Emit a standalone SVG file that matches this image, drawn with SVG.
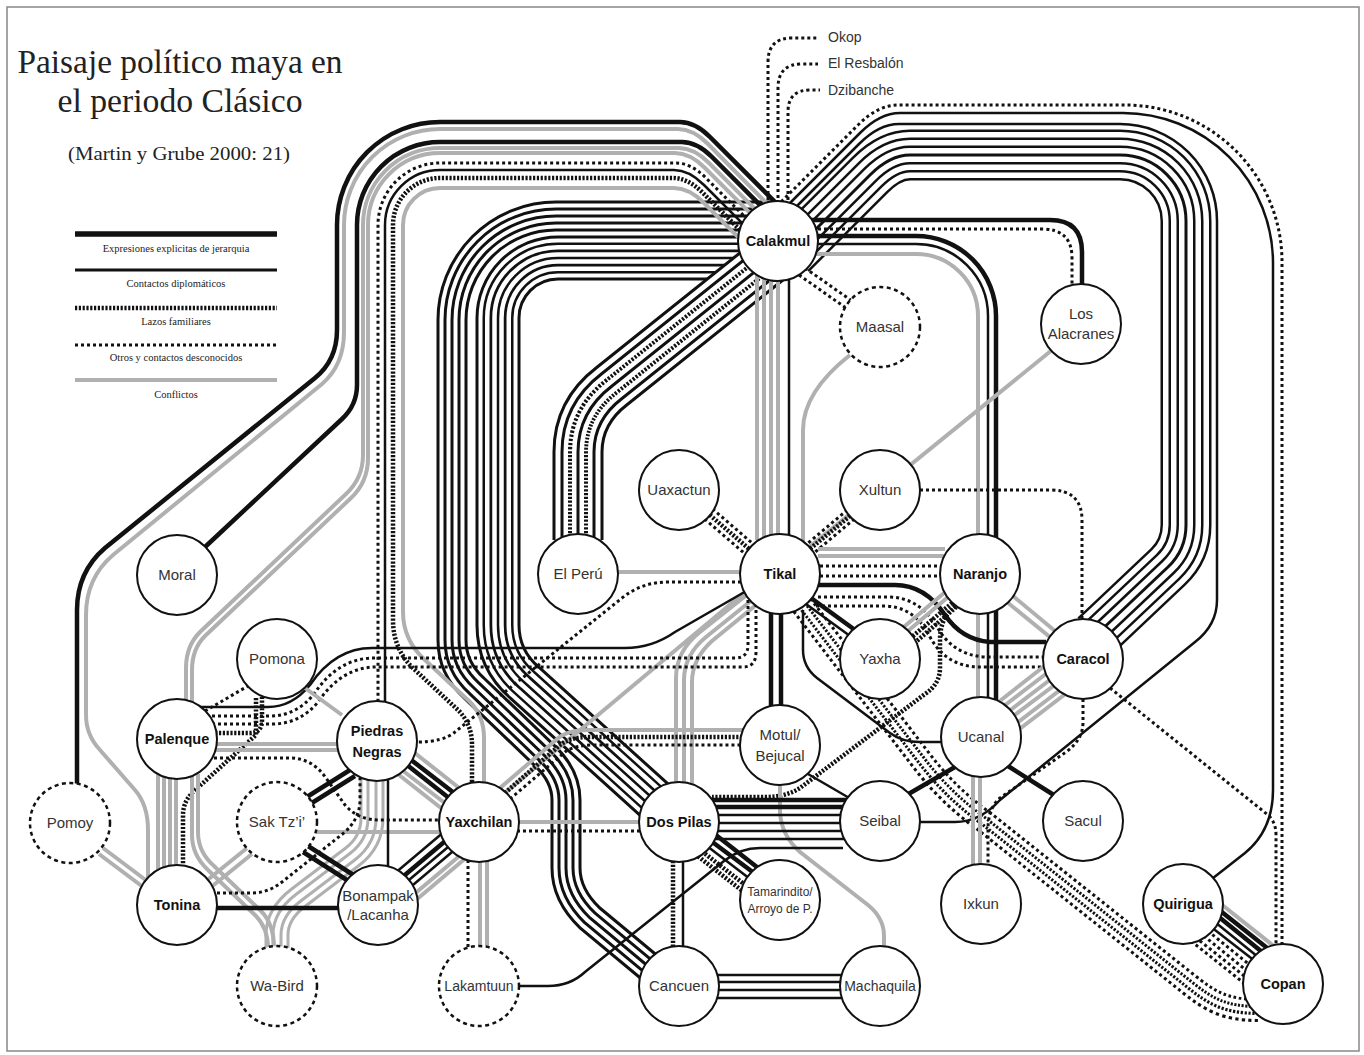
<svg xmlns="http://www.w3.org/2000/svg" xmlns:xlink="http://www.w3.org/1999/xlink" width="1364" height="1055" viewBox="0 0 1364 1055">
<style>
.h{fill:none;stroke:#111;stroke-width:4.5}
.dp{fill:none;stroke:#111;stroke-width:2.5}
.fa{fill:none;stroke:#111;stroke-width:4.5;stroke-dasharray:2.2 1.6}
.ot{fill:none;stroke:#111;stroke-width:3;stroke-dasharray:3 3}
.cf{fill:none;stroke:#b0b0b0;stroke-width:4}
.k{fill:none;stroke:#111}
.w{fill:none;stroke:#fff}
.kd{fill:none;stroke:#111;stroke-dasharray:3 3}
.kf{fill:none;stroke:#111;stroke-dasharray:2.2 1.6}
.gy{fill:none;stroke:#b0b0b0}
.node circle{fill:#fff;stroke:#111;stroke-width:2}
.node.dash circle{stroke-dasharray:4 3.5;stroke-width:2.5}
.node text{font-family:"Liberation Sans",Arial,sans-serif;font-size:15px;fill:#333;text-anchor:middle}
.node.b text{font-weight:bold;fill:#111;font-size:14.5px}
.title{font-family:"Liberation Serif","Times New Roman",serif;fill:#222;text-anchor:middle}
.leg{font-family:"Liberation Serif","Times New Roman",serif;font-size:10.5px;fill:#222;text-anchor:middle}
.ext{font-family:"Liberation Sans",Arial,sans-serif;font-size:14px;fill:#333}
</style>
<defs>
<path id="pA1" d="M 778 258 H 558 A 60 60 0 0 0 498 318 V 625 Q 498 660 525 683 L 660 805"/>
<path id="pA2" d="M 778 216 H 556 A 104 104 0 0 0 452 320 V 640 Q 452 668 474 688 L 545 756 Q 566 776 566 800 V 868 Q 566 895 590 918 L 655 972"/>
<path id="pB" d="M 772 258 L 612 386 Q 578 412 578 452 V 540"/>
<path id="pC" d="M 791 254 L 870 175 Q 890 155 910 155 H 1120 A 66 66 0 0 1 1186 221 V 525 Q 1186 550 1168 567 L 1095 636"/>
<path id="pT" d="M 802 605 L 925 765 Q 950 797 985 822 L 1190 985 C 1210 1001 1225 1010 1258 1010"/>
<path id="pW" d="M 372 778 V 818 Q 372 842 352 857 L 298 898 Q 277 914 277 935 V 950"/>
</defs>
<rect x="7" y="7" width="1352" height="1044" fill="#fff" stroke="#888" stroke-width="1.5"/>

<g id="title">
<text class="title" x="180" y="73" font-size="33" textLength="325" lengthAdjust="spacingAndGlyphs">Paisaje político maya en</text>
<text class="title" x="180" y="112" font-size="33" textLength="245" lengthAdjust="spacingAndGlyphs">el periodo Clásico</text>
<text class="title" x="179" y="160" font-size="19" textLength="222" lengthAdjust="spacingAndGlyphs">(Martin y Grube 2000: 21)</text>
</g>

<g id="legend">
<line class="h" x1="75" y1="234" x2="277" y2="234" style="stroke-width:5.5"/>
<text class="leg" x="176" y="252">Expresiones explicitas de jerarquia</text>
<line class="dp" x1="75" y1="270" x2="277" y2="270" style="stroke-width:3"/>
<text class="leg" x="176" y="287">Contactos diplomáticos</text>
<line class="fa" x1="75" y1="308" x2="277" y2="308"/>
<text class="leg" x="176" y="325">Lazos familiares</text>
<line class="ot" x1="75" y1="345" x2="277" y2="345"/>
<text class="leg" x="176" y="361">Otros y contactos desconocidos</text>
<line class="cf" x1="75" y1="380" x2="277" y2="380"/>
<text class="leg" x="176" y="398">Conflictos</text>
</g>

<g id="connectors">
<!-- bundles -->
<use href="#pA2" class="k" stroke-width="31"/><use href="#pA2" class="w" stroke-width="25"/><use href="#pA2" class="k" stroke-width="17"/><use href="#pA2" class="w" stroke-width="11"/><use href="#pA2" class="k" stroke-width="3"/>
<use href="#pA1" class="k" stroke-width="45"/><use href="#pA1" class="w" stroke-width="39"/><use href="#pA1" class="k" stroke-width="31"/><use href="#pA1" class="w" stroke-width="26"/><use href="#pA1" class="k" stroke-width="17"/><use href="#pA1" class="w" stroke-width="11.5"/><use href="#pA1" class="k" stroke-width="2.5"/>
<use href="#pB" class="k" stroke-width="51"/><use href="#pB" class="w" stroke-width="45"/><use href="#pB" class="k" stroke-width="35"/><use href="#pB" class="w" stroke-width="29"/><use href="#pB" class="kf" stroke-width="20"/><use href="#pB" class="w" stroke-width="12"/><use href="#pB" class="k" stroke-width="3"/>
<use href="#pC" class="k" stroke-width="51"/><use href="#pC" class="w" stroke-width="46"/><use href="#pC" class="k" stroke-width="35"/><use href="#pC" class="w" stroke-width="30"/><use href="#pC" class="k" stroke-width="19"/><use href="#pC" class="w" stroke-width="14"/><use href="#pC" class="k" stroke-width="3"/>
<use href="#pT" class="kd" stroke-width="24"/><use href="#pT" class="w" stroke-width="18"/><use href="#pT" class="kf" stroke-width="10"/><use href="#pT" class="w" stroke-width="4"/>
<use href="#pW" class="gy" stroke-width="25"/><use href="#pW" class="w" stroke-width="19"/><use href="#pW" class="gy" stroke-width="11"/><use href="#pW" class="w" stroke-width="5"/>

<!-- Calakmul west group -->
<path class="h" d="M 796 223 L 710 137 Q 695 122 680 122 H 440 A 103 103 0 0 0 337 225 V 330 Q 337 360 315 378 L 105 548 Q 77 572 77 610 V 784"/>
<path class="cf" d="M 791 228 L 708 144 Q 693 129 678 129 H 440 A 96 96 0 0 0 344 225 V 332 Q 344 365 322 384 L 113 555 Q 86 578 86 615 V 715 Q 86 735 100 750 L 135 790 Q 148 805 148 830 V 878"/>
<path class="h" d="M 787 232 L 712 157 Q 697 142 682 142 H 440 A 83 83 0 0 0 357 225 V 385 Q 357 405 342 419 L 205 547"/>
<path class="cf" d="M 782 236 L 709 163 Q 694 148 679 148 H 440 A 77 77 0 0 0 363 225 V 455 Q 363 478 346 494 L 200 632 Q 186 646 186 668 V 702"/>
<path class="cf" d="M 778 241 L 705 168 Q 690 153 675 153 H 440 A 72 72 0 0 0 368 225 V 458 Q 368 482 351 498 L 205 636 Q 192 649 192 670 V 703"/>
<path class="ot" d="M 773 245 L 706 178 Q 691 163 676 163 H 440 A 62 62 0 0 0 378 225 V 702"/>
<path class="dp" d="M 769 250 L 704 185 Q 689 170 674 170 H 440 A 55 55 0 0 0 385 225 V 703"/>
<path class="fa" d="M 764 254 L 703 193 Q 688 178 673 178 H 440 A 47 47 0 0 0 393 225 V 620 Q 393 650 415 670 L 458 710 Q 472 724 472 745 V 784"/>
<path class="cf" d="M 760 259 L 704 203 Q 689 188 674 188 H 440 A 37 37 0 0 0 403 225 V 612 Q 403 640 425 660 L 470 702 Q 484 716 484 738 V 784"/>

<!-- Calakmul north / east -->
<path class="ot" d="M 768 206 V 62 Q 768 38 792 38 H 818"/>
<path class="ot" d="M 778 204 V 88 Q 778 64 802 64 H 818"/>
<path class="ot" d="M 788 206 V 112 Q 788 90 810 90 H 820"/>
<path class="ot" d="M 760 223 L 858 125 Q 878 105 898 105 H 1125 A 157 157 0 0 1 1282 262 V 946"/>
<path class="dp" d="M 765 228 L 860 133 Q 880 113 900 113 H 1123 A 150 150 0 0 1 1273 263 V 790 Q 1273 830 1245 853 L 1208 882"/>
<path class="dp" d="M 770 233 L 859 144 Q 879 124 899 124 H 1120 A 97 97 0 0 1 1217 221 V 600 Q 1217 625 1195 642 L 1000 800 Q 980 822 955 822 H 918"/>
<path class="h" d="M 805 220 H 1050 Q 1082 220 1082 252 V 286"/>
<path class="ot" d="M 806 229 H 1042 Q 1072 229 1072 258 V 288"/>
<path class="h" d="M 810 236 H 916 A 80 80 0 0 1 996 316 V 700"/>
<path class="dp" d="M 810 244 H 916 A 72 72 0 0 1 988 316 V 700"/>
<path class="cf" d="M 810 254 H 916 A 62 62 0 0 1 978 316 V 700"/>
<path class="ot" d="M 805 268 L 852 301"/>
<path class="ot" d="M 799 275 L 846 308"/>
<path class="cf" d="M 757 272 V 540"/>
<path class="cf" d="M 764 276 V 538"/>
<path class="cf" d="M 771 278 V 536"/>
<path class="cf" d="M 778 280 V 536"/>
<path class="dp" d="M 789 279 V 536"/>
<path class="cf" d="M 850 355 Q 803 392 803 430 V 542"/>
<path class="cf" d="M 1052 350 L 808 548"/>

<!-- Tikal area -->
<path class="cf" d="M 618 572 H 742"/>
<path class="ot" d="M 708 505 L 759 549"/>
<path class="fa" d="M 704 510 L 755 554"/>
<path class="ot" d="M 700 515 L 751 559"/>
<path class="ot" d="M 852 506 L 801 549"/>
<path class="fa" d="M 856 511 L 805 553"/>
<path class="ot" d="M 859 515 L 808 558"/>
<path class="cf" d="M 818 549 H 945"/>
<path class="cf" d="M 818 556 H 944"/>
<path class="ot" d="M 820 566 H 942"/>
<path class="ot" d="M 820 576 H 942"/>
<path class="dp" d="M 806 604 L 850 636"/>
<path class="h" d="M 811 598 L 855 630"/>
<path class="h" d="M 818 585 H 895 Q 925 585 945 615 Q 962 640 990 642 H 1046"/>
<path class="ot" d="M 818 597 H 888 Q 918 597 936 625 Q 952 655 985 657 H 1046"/>
<path class="ot" d="M 816 606 H 884 Q 912 606 928 633 Q 944 667 980 667 H 1046"/>
<path class="dp" d="M 803 610 V 650 Q 803 667 817 678 L 890 733 Q 902 742 920 742 H 943"/>
<path class="h" d="M 771 612 V 707"/>
<path class="h" d="M 781 613 V 706"/>
<path class="cf" d="M 748 594 L 700 632 Q 676 651 676 678 V 784"/>
<path class="cf" d="M 752 600 L 706 637 Q 684 655 684 680 V 784"/>
<path class="cf" d="M 756 605 L 712 641 Q 692 659 692 682 V 786"/>
<path class="cf" d="M 745 592 L 506 792"/>
<path class="cf" d="M 500 788 L 556 740 Q 566 730 588 730 H 744"/>
<path class="fa" d="M 505 793 L 560 745 Q 570 737 590 737 H 742"/>
<path class="ot" d="M 510 799 L 565 752 Q 575 745 593 745 H 741"/>
<path class="ot" d="M 741 582 H 668 Q 642 582 622 598 L 455 732 Q 443 742 417 742"/>
<path class="dp" d="M 200 707 H 268 Q 292 707 310 685 Q 335 648 372 648 H 625 Q 652 648 675 632 L 748 590"/>
<path class="ot" d="M 200 716 H 270 Q 296 716 314 694 Q 338 658 374 658 H 735 Q 748 658 748 645 V 600"/>
<path class="ot" d="M 200 724 H 272 Q 300 724 318 702 Q 342 667 376 667 H 743 Q 756 667 756 652 V 606"/>

<!-- Naranjo / Caracol / Ucanal -->
<path class="fa" d="M 955 606 Q 940 618 940 640 V 668 Q 940 684 925 694 L 800 788 Q 786 797 765 797 H 712"/>
<path class="cf" d="M 950 588 L 899 631"/>
<path class="cf" d="M 954 592 L 902 636"/>
<path class="fa" d="M 958 598 L 907 641"/>
<path class="fa" d="M 962 602 L 911 646"/>
<path class="cf" d="M 1007 591 L 1061 636"/>
<path class="cf" d="M 1002 598 L 1056 642"/>
<path class="ot" d="M 920 490 H 1050 Q 1082 490 1082 520 V 620"/>
<path class="cf" d="M 1047 664 L 996 704"/>
<path class="cf" d="M 1051 670 L 1000 709"/>
<path class="cf" d="M 1055 676 L 1004 715"/>
<path class="cf" d="M 1060 681 L 1008 720"/>
<path class="cf" d="M 1064 687 L 1013 726"/>
<path class="cf" d="M 1068 692 L 1017 731"/>
<path class="h" d="M 955 767 L 905 796"/>
<path class="h" d="M 1008 766 L 1057 797"/>
<path class="cf" d="M 973 776 V 866"/>
<path class="cf" d="M 980 777 V 865"/>
<path class="ot" d="M 1083 699 V 722 Q 1083 740 1066 752 L 1000 798 Q 988 808 988 830 V 866"/>
<path class="ot" d="M 1110 688 L 1268 815 Q 1276 822 1276 835 V 946"/>
<path class="cf" d="M 1221 904 L 1275 947"/>
<path class="h" d="M 1218 909 L 1271 951"/>
<path class="h" d="M 1214 913 L 1267 956"/>
<path class="dp" d="M 1210 918 L 1263 961"/>
<path class="dp" d="M 1206 923 L 1260 965"/>
<path class="ot" d="M 1203 927 L 1256 970"/>
<path class="ot" d="M 1199 932 L 1252 975"/>
<path class="ot" d="M 1195 937 L 1248 979"/>
<path class="ot" d="M 1191 941 L 1245 984"/>

<!-- Motul / Dos Pilas / Seibal -->
<path class="dp" d="M 808 774 L 851 799"/>
<path class="cf" d="M 780 785 V 812 Q 781 835 800 852 L 868 905 Q 884 918 884 936 V 947"/>
<path class="h" d="M 712 800 H 848"/>
<path class="h" d="M 714 807 H 846"/>
<path class="dp" d="M 716 815 H 843"/>
<path class="dp" d="M 716 823 H 843"/>
<path class="dp" d="M 716 831 H 843"/>
<path class="dp" d="M 713 839 H 846"/>
<path class="dp" d="M 843 848 H 760 Q 740 848 724 861 L 585 972 Q 570 986 548 986 H 519"/>
<path class="h" d="M 712 832 L 762 871"/>
<path class="h" d="M 707 838 L 758 876"/>
<path class="dp" d="M 703 843 L 754 882"/>
<path class="fa" d="M 699 849 L 749 888"/>
<path class="fa" d="M 695 854 L 745 893"/>
<path class="fa" d="M 673 861 V 947"/>
<path class="dp" d="M 683 861 V 947"/>
<path class="dp" d="M 716 975 H 843"/>
<path class="dp" d="M 718 982 H 841"/>
<path class="dp" d="M 718 990 H 841"/>
<path class="dp" d="M 717 998 H 842"/>
<path class="cf" d="M 518 822 H 640"/>
<path class="ot" d="M 517 831 H 641"/>

<!-- West -->
<path class="fa" d="M 200 733 H 250 Q 262 733 262 720 V 697"/>
<path class="fa" d="M 256 698 V 735 L 193 792 Q 183 802 183 815 V 867"/>
<path class="ot" d="M 205 711 L 248 686"/>
<path class="cf" d="M 305 688 L 342 715"/>
<path class="cf" d="M 216 744 H 338"/>
<path class="cf" d="M 216 750 H 338"/>
<path class="ot" d="M 214 758 H 290 Q 312 758 326 778 L 345 805 Q 358 820 380 820 H 440"/>
<path class="cf" d="M 158 774 V 870"/>
<path class="cf" d="M 164 776 V 868"/>
<path class="cf" d="M 170 777 V 867"/>
<path class="cf" d="M 176 778 V 866"/>
<path class="cf" d="M 192 776 V 835 Q 192 855 208 870 L 255 915 Q 268 928 268 948"/>
<path class="cf" d="M 198 774 V 832 Q 198 852 214 866 L 261 911 Q 274 924 274 948"/>
<path class="cf" d="M 247 848 L 205 882"/>
<path class="cf" d="M 252 854 L 210 888"/>
<path class="cf" d="M 317 832 H 440"/>
<path class="cf" d="M 103 848 L 147 881"/>
<path class="cf" d="M 99 854 L 143 887"/>
<path class="h" d="M 350 770 L 302 800"/>
<path class="h" d="M 355 776 L 307 806"/>
<path class="h" d="M 303 852 L 350 882"/>
<path class="h" d="M 308 846 L 355 876"/>
<path class="h" d="M 215 908 H 340"/>
<path class="ot" d="M 217 893 H 252 Q 268 893 282 882 L 345 832 Q 360 818 360 800 V 778"/>
<path class="dp" d="M 388 779 V 867"/>
<path class="cf" d="M 411 750 L 463 791"/>
<path class="h" d="M 406 756 L 458 796"/>
<path class="h" d="M 402 761 L 454 802"/>
<path class="cf" d="M 398 767 L 450 807"/>
<path class="cf" d="M 394 771 L 446 812"/>
<path class="dp" d="M 445 831 L 394 874"/>
<path class="h" d="M 450 837 L 399 880"/>
<path class="dp" d="M 454 842 L 403 885"/>
<path class="dp" d="M 458 847 L 407 890"/>
<path class="cf" d="M 463 853 L 412 896"/>
<path class="cf" d="M 467 857 L 416 900"/>
<path class="ot" d="M 468 860 V 948"/>
<path class="cf" d="M 480 862 V 946"/>
<path class="cf" d="M 487 861 V 948"/>
</g>

<g id="labels-north">
<text class="ext" x="828" y="42">Okop</text>
<text class="ext" x="828" y="68">El Resbalón</text>
<text class="ext" x="828" y="95">Dzibanche</text>
</g>

<g id="n-calakmul" class="node b"><circle cx="778" cy="241" r="40"/><text x="778" y="246">Calakmul</text></g>
<g id="n-maasal" class="node dash"><circle cx="880" cy="327" r="40"/><text x="880" y="332">Maasal</text></g>
<g id="n-alacranes" class="node"><circle cx="1081" cy="324" r="40"/><text x="1081" y="319">Los</text><text x="1081" y="339">Alacranes</text></g>
<g id="n-uaxactun" class="node"><circle cx="679" cy="490" r="40"/><text x="679" y="495">Uaxactun</text></g>
<g id="n-xultun" class="node"><circle cx="880" cy="490" r="40"/><text x="880" y="495">Xultun</text></g>
<g id="n-elperu" class="node"><circle cx="578" cy="574" r="40"/><text x="578" y="579">El Perú</text></g>
<g id="n-tikal" class="node b"><circle cx="780" cy="574" r="40"/><text x="780" y="579">Tikal</text></g>
<g id="n-naranjo" class="node b"><circle cx="980" cy="574" r="40"/><text x="980" y="579">Naranjo</text></g>
<g id="n-moral" class="node"><circle cx="177" cy="575" r="40"/><text x="177" y="580">Moral</text></g>
<g id="n-yaxha" class="node"><circle cx="880" cy="659" r="40"/><text x="880" y="664">Yaxha</text></g>
<g id="n-caracol" class="node b"><circle cx="1083" cy="659" r="40"/><text x="1083" y="664">Caracol</text></g>
<g id="n-pomona" class="node"><circle cx="277" cy="659" r="40"/><text x="277" y="664">Pomona</text></g>
<g id="n-palenque" class="node b"><circle cx="177" cy="739" r="40"/><text x="177" y="744">Palenque</text></g>
<g id="n-piedrasnegras" class="node b"><circle cx="377" cy="741" r="40"/><text x="377" y="736">Piedras</text><text x="377" y="757">Negras</text></g>
<g id="n-motul" class="node"><circle cx="780" cy="745" r="40"/><text x="780" y="740">Motul/</text><text x="780" y="761">Bejucal</text></g>
<g id="n-ucanal" class="node"><circle cx="981" cy="737" r="40"/><text x="981" y="742">Ucanal</text></g>
<g id="n-pomoy" class="node dash"><circle cx="70" cy="823" r="40"/><text x="70" y="828">Pomoy</text></g>
<g id="n-saktzi" class="node dash"><circle cx="277" cy="822" r="40"/><text x="277" y="827">Sak Tz’i’</text></g>
<g id="n-yaxchilan" class="node b"><circle cx="479" cy="822" r="40"/><text x="479" y="827">Yaxchilan</text></g>
<g id="n-dospilas" class="node b"><circle cx="679" cy="822" r="40"/><text x="679" y="827">Dos Pilas</text></g>
<g id="n-seibal" class="node"><circle cx="880" cy="821" r="40"/><text x="880" y="826">Seibal</text></g>
<g id="n-sacul" class="node"><circle cx="1083" cy="821" r="40"/><text x="1083" y="826">Sacul</text></g>
<g id="n-tonina" class="node b"><circle cx="177" cy="905" r="40"/><text x="177" y="910">Tonina</text></g>
<g id="n-bonampak" class="node"><circle cx="378" cy="905" r="40"/><text x="378" y="901">Bonampak</text><text x="378" y="920">/Lacanha</text></g>
<g id="n-tamarindito" class="node"><circle cx="780" cy="900" r="40"/><text x="780" y="896" style="font-size:12px">Tamarindito/</text><text x="780" y="913" style="font-size:12px">Arroyo de P.</text></g>
<g id="n-ixkun" class="node"><circle cx="981" cy="904" r="40"/><text x="981" y="909">Ixkun</text></g>
<g id="n-quirigua" class="node b"><circle cx="1183" cy="904" r="40"/><text x="1183" y="909">Quirigua</text></g>
<g id="n-wabird" class="node dash"><circle cx="277" cy="986" r="40"/><text x="277" y="991">Wa-Bird</text></g>
<g id="n-lakamtuun" class="node dash"><circle cx="479" cy="986" r="40"/><text x="479" y="991" style="font-size:14px">Lakamtuun</text></g>
<g id="n-cancuen" class="node"><circle cx="679" cy="986" r="40"/><text x="679" y="991">Cancuen</text></g>
<g id="n-machaquila" class="node"><circle cx="880" cy="986" r="40"/><text x="880" y="991" style="font-size:14px">Machaquila</text></g>
<g id="n-copan" class="node b"><circle cx="1283" cy="984" r="40"/><text x="1283" y="989">Copan</text></g>
</svg>
